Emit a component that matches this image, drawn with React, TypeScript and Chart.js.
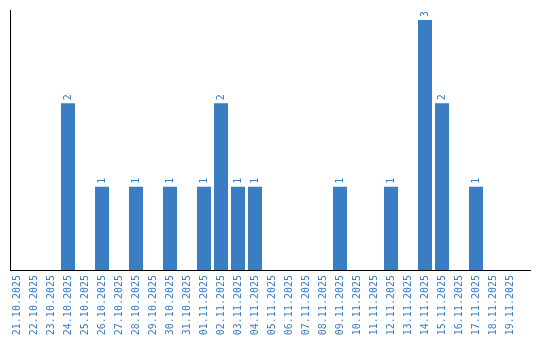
import React, { useEffect, useRef } from "react";
import { Chart, registerables } from "chart.js";

Chart.register(...registerables);

const categories: string[] = [
  "21.10.2025", "22.10.2025", "23.10.2025", "24.10.2025", "25.10.2025",
  "26.10.2025", "27.10.2025", "28.10.2025", "29.10.2025", "30.10.2025",
  "31.10.2025", "01.11.2025", "02.11.2025", "03.11.2025", "04.11.2025",
  "05.11.2025", "06.11.2025", "07.11.2025", "08.11.2025", "09.11.2025",
  "10.11.2025", "11.11.2025", "12.11.2025", "13.11.2025", "14.11.2025",
  "15.11.2025", "16.11.2025", "17.11.2025", "18.11.2025", "19.11.2025",
];

const counts: number[] = [
  0, 0, 0, 2, 0, 1, 0, 1, 0, 1,
  0, 1, 2, 1, 1, 0, 0, 0, 0, 1,
  0, 0, 1, 0, 3, 2, 0, 1, 0, 0,
];

const BLUE = "#3a7dc2";
const FONT = "'DejaVu Sans Mono', monospace";

const axisLines = {
  id: "axisLines",
  afterDraw(chart: any) {
    const { ctx, chartArea } = chart;
    ctx.save();
    ctx.strokeStyle = "#000";
    ctx.lineWidth = 1;
    ctx.beginPath();
    ctx.moveTo(10.5, chartArea.top);
    ctx.lineTo(10.5, chartArea.bottom + 0.5);
    ctx.moveTo(10, chartArea.bottom + 0.5);
    ctx.lineTo(531, chartArea.bottom + 0.5);
    ctx.stroke();
    ctx.restore();
  },
};

const valueLabels = {
  id: "valueLabels",
  afterDatasetsDraw(chart: any) {
    const { ctx } = chart;
    const meta = chart.getDatasetMeta(0);
    const data = chart.data.datasets[0].data as number[];
    ctx.save();
    ctx.fillStyle = BLUE;
    ctx.font = `10px ${FONT}`;
    ctx.textAlign = "left";
    ctx.textBaseline = "middle";
    meta.data.forEach((bar: any, i: number) => {
      const v = data[i];
      if (!v) return;
      ctx.save();
      ctx.translate(bar.x, bar.y - 3);
      ctx.rotate(-Math.PI / 2);
      ctx.fillText(String(v), 0, 0);
      ctx.restore();
    });
    ctx.restore();
  },
};

export default function App() {
  const ref = useRef<HTMLCanvasElement | null>(null);

  useEffect(() => {
    if (!ref.current) return;
    const chart = new Chart(ref.current, {
      type: "bar",
      data: {
        labels: categories,
        datasets: [
          {
            data: counts,
            backgroundColor: BLUE,
            borderWidth: 0,
            categoryPercentage: 1,
            barPercentage: 14 / 17,
          },
        ],
      },
      options: {
        responsive: false,
        animation: false,
        events: [],
        layout: { padding: { left: 8.5, right: 21.5, top: 10, bottom: 0 } },
        plugins: {
          legend: { display: false },
          tooltip: { enabled: false },
        },
        scales: {
          x: {
            type: "category",
            offset: true,
            grid: { display: false, drawTicks: false },
            border: { display: false },
            afterFit: (scale: any) => {
              scale.height = 70;
            },
            ticks: {
              autoSkip: false,
              maxRotation: 90,
              minRotation: 90,
              padding: 5,
              color: BLUE,
              font: { family: FONT, size: 10 },
            },
          },
          y: {
            display: false,
            min: 0,
            max: 3.12,
          },
        },
      },
      plugins: [axisLines, valueLabels],
    });
    return () => chart.destroy();
  }, []);

  return (
    <div style={{ position: "fixed", left: 0, top: 0, width: 540, height: 340, background: "#fff" }}>
      <canvas ref={ref} width={540} height={340} style={{ display: "block" }} />
    </div>
  );
}
